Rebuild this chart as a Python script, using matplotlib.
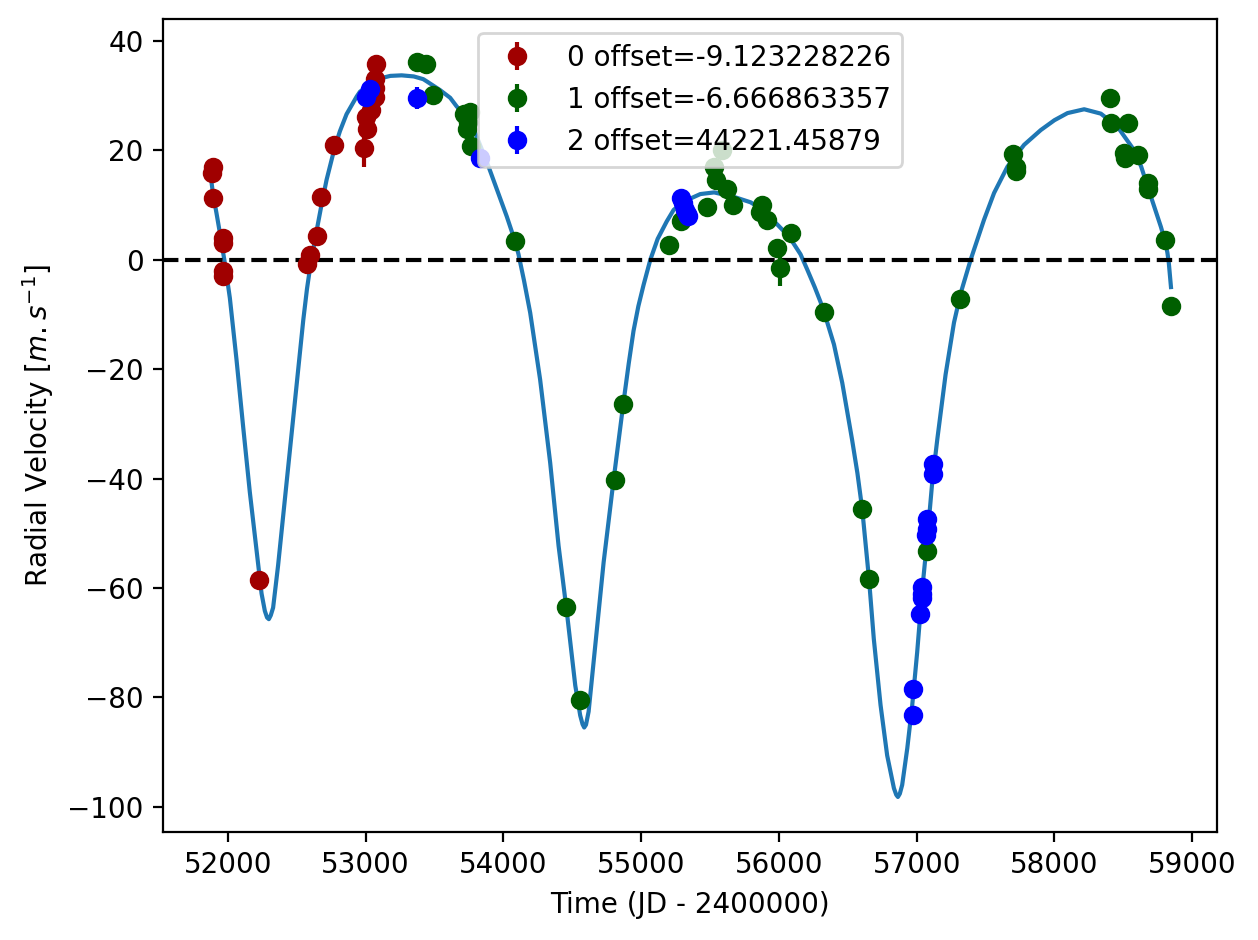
import matplotlib
matplotlib.use("Agg")
import matplotlib.pyplot as plt

# ---- data ----
t0 = [51893, 51882, 51893, 51966, 51966, 51966, 51966, 52225, 52572, 52596,
      52649, 52680, 52773, 52988, 53010, 53005, 53039, 53068, 53068, 53068, 53076]
rv0 = [17.0, 15.8, 11.2, 4.0, 3.1, -2.1, -3.0, -58.5, -0.7, 0.9,
       4.3, 11.5, 21.0, 20.4, 23.9, 26.1, 27.3, 29.7, 31.4, 33.0, 35.7]
err0 = [0.8, 0.8, 0.8, 0.8, 0.8, 0.8, 0.8, 1.0, 0.8, 0.8,
        0.8, 0.8, 0.8, 3.5, 0.8, 0.8, 0.8, 0.8, 0.8, 0.8, 0.8]

t1 = [53371, 53439, 53488, 53715, 53759, 53744, 53737, 53766, 54086, 54456,
      54553, 54811, 54872, 55201, 55289, 55479, 55532, 55590, 55546, 55625,
      55669, 55876, 55864, 55915, 56085, 55988, 56007, 56331, 56605, 56654,
      57073, 57315, 57701, 57718, 57718, 58405, 58410, 58536, 58507, 58514,
      58604, 58676, 58676, 58805, 58846]
rv1 = [36.2, 35.7, 30.1, 26.6, 27.0, 25.2, 23.9, 20.8, 3.5, -63.5,
       -80.5, -40.2, -26.3, 2.6, 7.0, 9.6, 17.0, 20.0, 14.6, 13.0,
       10.0, 10.0, 8.8, 7.3, 4.8, 2.1, -1.5, -9.5, -45.6, -58.3,
       -53.2, -7.1, 19.4, 17.0, 16.3, 29.5, 24.9, 25.0, 19.5, 18.6,
       19.2, 14.0, 13.0, 3.6, -8.4]
err1 = [0.8] * 26 + [3.3] + [0.8] * 18

t2 = [53003, 53032, 53376, 53831, 55292, 55307, 55321, 55336, 55343, 56973,
      56973, 57024, 57036, 57036, 57036, 57073, 57073, 57068, 57119, 57119]
rv2 = [29.7, 31.2, 29.5, 18.6, 11.2, 10.4, 9.1, 8.4, 7.9, -78.4,
       -83.3, -64.7, -59.9, -61.1, -61.9, -47.4, -49.2, -50.4, -37.4, -39.2]
err2 = [0.8, 0.8, 2.0] + [0.8] * 17

labels = ["0 offset=-9.123228226", "1 offset=-6.666863357", "2 offset=44221.45879"]
colors = ["#a00000", "#005f00", "#0000ff"]

# model curve
model_t = [51880, 51893, 51918, 51942, 51978, 52015, 52063, 52111, 52160, 52208,
           52245, 52269, 52285, 52298, 52312, 52329, 52365, 52402, 52451, 52500,
           52548, 52575, 52600, 52650, 52680, 52717, 52776, 52814, 52862, 52935,
           52959, 53056, 53081, 53180, 53262, 53350, 53419, 53444, 53541, 53614,
           53662, 53735, 53783, 53831, 53880, 53928, 54025, 54086, 54110, 54150,
           54195, 54267, 54340, 54401, 54461, 54522, 54558, 54575, 54587, 54600,
           54619, 54667, 54728, 54801, 54872, 54910, 54945, 54980, 55018, 55067,
           55120, 55186, 55236, 55307, 55430, 55530, 55672, 55794, 55860, 55915,
           55990, 56036, 56085, 56157, 56206, 56260, 56302, 56331, 56400, 56460,
           56532, 56570, 56605, 56654, 56689, 56738, 56786, 56835, 56852, 56864,
           56878, 56895, 56932, 56968, 57004, 57041, 57077, 57113, 57150, 57210,
           57271, 57320, 57392, 57489, 57562, 57659, 57694, 57780, 57901, 58000,
           58095, 58216, 58337, 58458, 58579, 58630, 58676, 58730, 58773, 58805,
           58820, 58830, 58846]
model_rv = [14.5, 12.0, 8.5, 5.0, -0.5, -7.0, -18.2, -30.4, -42.5, -52.9,
            -61.0, -64.2, -65.4, -65.7, -65.0, -63.6, -55.9, -46.8, -34.6, -22.5,
            -11.0, -5.3, -1.0, 6.0, 10.0, 14.6, 20.5, 23.5, 26.6, 29.8,
            30.7, 32.6, 33.0, 33.6, 33.7, 33.5, 33.0, 32.6, 31.0, 29.6,
            28.0, 26.0, 24.0, 21.0, 17.9, 14.6, 7.9, 3.3, 1.0, -3.8,
            -9.7, -21.9, -37.1, -52.3, -64.4, -77.8, -83.3, -84.9, -85.5, -85.0,
            -82.6, -70.5, -55.3, -40.1, -26.1, -19.0, -13.0, -8.5, -4.6, 0.0,
            3.8, 7.0, 9.1, 10.6, 12.0, 12.3, 11.5, 10.5, 9.5, 8.2,
            6.4, 5.2, 3.8, 1.0, -1.8, -5.0, -7.7, -9.8, -15.5, -22.5,
            -33.0, -39.0, -45.6, -58.3, -69.3, -81.4, -90.6, -96.6, -97.8, -98.2,
            -97.6, -96.0, -89.3, -81.4, -71.7, -60.2, -51.0, -40.7, -32.8, -21.0,
            -11.5, -6.1, 0.0, 7.3, 12.2, 17.0, 18.2, 21.0, 23.7, 25.5,
            26.8, 27.5, 26.7, 24.3, 20.0, 17.0, 13.4, 9.3, 6.0, 3.2,
            1.3, -0.5, -5.0]

fig = plt.figure(figsize=(6.29, 4.70), dpi=200)
ax = fig.add_axes([0.1296, 0.1149, 0.8378, 0.8649])

ax.plot(model_t, model_rv, color="#1f77b4", lw=1.5, zorder=1.5)
ax.axhline(0, color="k", ls="--", lw=1.5, zorder=1.6)

for t, rv, e, lab, c in zip([t0, t1, t2], [rv0, rv1, rv2], [err0, err1, err2], labels, colors):
    ax.errorbar(t, rv, yerr=e, fmt="o", color=c, label=lab, zorder=2)

ax.set_xlim(51530, 59180)
ax.set_ylim(-104.6, 44.0)
ax.set_xlabel("Time (JD - 2400000)")
ax.set_ylabel(r"Radial Velocity [$m.s^{-1}$]")
ax.legend(loc="upper center")

fig.savefig("out.png", dpi=200)
